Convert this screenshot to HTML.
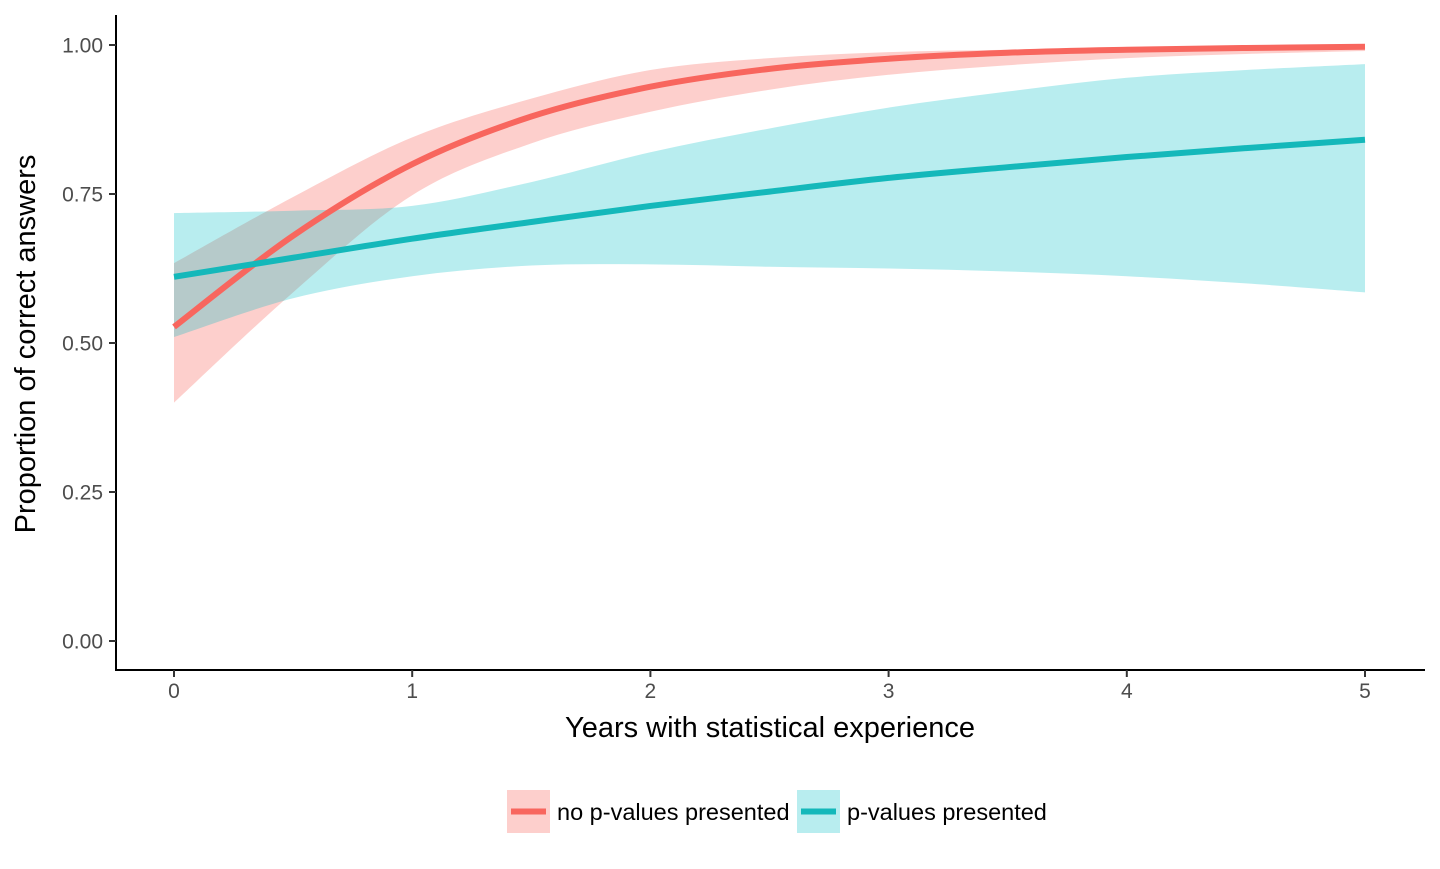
<!DOCTYPE html>
<html><head><meta charset="utf-8">
<style>
body{margin:0;background:#fff;width:1440px;height:864px;overflow:hidden;font-family:"Liberation Sans",Arial,sans-serif;}
svg text{font-family:"Liberation Sans",Arial,sans-serif;}
</style></head>
<body>
<svg id="chart" width="1440" height="864">
<g id="bands"></g>
<g id="lines"></g>
<line x1="116" y1="15" x2="116" y2="671" stroke="#000" stroke-width="2"/>
<line x1="115" y1="670" x2="1425" y2="670" stroke="#000" stroke-width="2"/>
<g id="yticks"></g>
<g id="xticks"></g>
<text x="770" y="737" text-anchor="middle" font-size="29" fill="#000">Years with statistical experience</text>
<text transform="translate(35,344) rotate(-90)" text-anchor="middle" font-size="29" fill="#000">Proportion of correct answers</text>
<g>
<g>
<rect x="507" y="790" width="43" height="43" fill="#F8766D" fill-opacity="0.35"/>
<line x1="511" y1="811.5" x2="546" y2="811.5" stroke="#F8665E" stroke-width="6"/>
<text x="557" y="820" font-size="23.5" fill="#000">no p-values presented</text>
</g>
<g>
<rect x="797" y="790" width="43" height="43" fill="#00BFC4" fill-opacity="0.28"/>
<line x1="801" y1="811.5" x2="836" y2="811.5" stroke="#14B8BA" stroke-width="6"/>
<text x="847" y="820" font-size="23.5" fill="#000">p-values presented</text>
</g>
</g>
</svg>
<script>
const xs = [0, 0.5, 1, 1.5, 2, 2.5, 3, 3.5, 4, 4.5, 5];
const redFit   = [0.527, 0.68, 0.80, 0.88, 0.93, 0.96, 0.977, 0.987, 0.992, 0.995, 0.997];
const redLow   = [0.40, 0.585, 0.748, 0.835, 0.888, 0.925, 0.95, 0.966, 0.978, 0.985, 0.99];
const redHigh  = [0.634, 0.745, 0.845, 0.91, 0.958, 0.978, 0.988, 0.992, 0.995, 0.997, 0.999];
const tealFit  = [0.611, 0.643, 0.675, 0.703, 0.73, 0.754, 0.777, 0.795, 0.812, 0.827, 0.841];
const tealLow  = [0.51, 0.575, 0.612, 0.63, 0.632, 0.628, 0.625, 0.62, 0.612, 0.6, 0.585];
const tealHigh = [0.718, 0.722, 0.73, 0.77, 0.82, 0.86, 0.895, 0.922, 0.945, 0.958, 0.968];
const yTicks = [0, 0.25, 0.5, 0.75, 1.0];
const yTickLabels = ["0.00","0.25","0.50","0.75","1.00"];
const xTicks = [0,1,2,3,4,5];
const xTickLabels = ["0","1","2","3","4","5"];

const NS="http://www.w3.org/2000/svg";
const X = v => 174 + v*238.2;
const Y = v => 641 - v*596;
function smooth(pts){
  let d="";
  for(let i=0;i<pts.length;i++){
    const p=pts[i];
    if(i===0){d+="M"+p[0]+","+p[1];continue;}
    const p0=pts[i-2]||pts[i-1], p1=pts[i-1], p3=pts[i+1]||p;
    const c1=[p1[0]+(p[0]-p0[0])/6, p1[1]+(p[1]-p0[1])/6];
    const c2=[p[0]-(p3[0]-p1[0])/6, p[1]-(p3[1]-p1[1])/6];
    d+="C"+c1.join(",")+" "+c2.join(",")+" "+p.join(",");
  }
  return d;
}
function pts(arr){return xs.map((x,i)=>[X(x),Y(arr[i])]);}
function band(low,high,color,op,name){
  const up=pts(high), lo=pts(low).reverse();
  const d=smooth(up)+"L"+lo[0].join(",")+smooth(lo).slice(1).replace(/^[^C]*/,"")+"Z";
  const p=document.createElementNS(NS,"path");
  p.setAttribute("d",d);p.setAttribute("fill",color);p.setAttribute("fill-opacity",op);
  
  
  document.getElementById("bands").appendChild(p);
}
function line(arr,color,name){
  const p=document.createElementNS(NS,"path");
  p.setAttribute("d",smooth(pts(arr)));p.setAttribute("fill","none");
  p.setAttribute("stroke",color);p.setAttribute("stroke-width","6");
  
  
  document.getElementById("lines").appendChild(p);
}
band(redLow,redHigh,"#F8766D","0.35","band-no-p-values");
band(tealLow,tealHigh,"#00BFC4","0.28","band-p-values");
line(redFit,"#F8665E","line-no-p-values");
line(tealFit,"#14B8BA","line-p-values");

const yg=document.getElementById("yticks");
yTicks.forEach((v,i)=>{
  const l=document.createElementNS(NS,"line");
  l.setAttribute("x1",109);l.setAttribute("x2",116);l.setAttribute("y1",Y(v));l.setAttribute("y2",Y(v));
  l.setAttribute("stroke","#333");l.setAttribute("stroke-width","2");
  
  
  yg.appendChild(l);
  const t=document.createElementNS(NS,"text");
  t.setAttribute("x",103);t.setAttribute("y",Y(v)+7.5);t.setAttribute("text-anchor","end");
  t.setAttribute("font-size","21");t.setAttribute("fill","#4d4d4d");t.textContent=yTickLabels[i];
  
  
  yg.appendChild(t);
});
const xg=document.getElementById("xticks");
xTicks.forEach((v,i)=>{
  const l=document.createElementNS(NS,"line");
  l.setAttribute("x1",X(v));l.setAttribute("x2",X(v));l.setAttribute("y1",670);l.setAttribute("y2",677);
  l.setAttribute("stroke","#333");l.setAttribute("stroke-width","2");
  
  
  xg.appendChild(l);
  const t=document.createElementNS(NS,"text");
  t.setAttribute("x",X(v));t.setAttribute("y",698);t.setAttribute("text-anchor","middle");
  t.setAttribute("font-size","21");t.setAttribute("fill","#4d4d4d");t.textContent=xTickLabels[i];
  
  
  xg.appendChild(t);
});
</script>
</body></html>
